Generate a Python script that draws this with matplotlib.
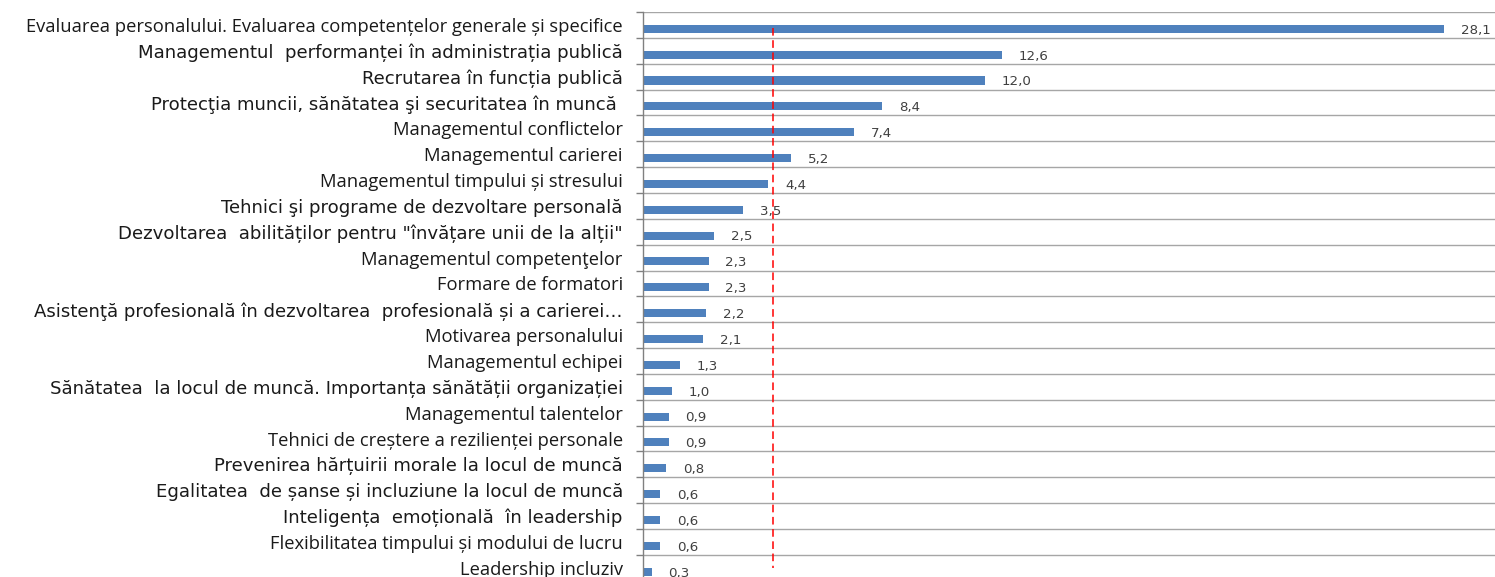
import matplotlib
matplotlib.use("Agg")
import matplotlib.pyplot as plt
import numpy as np

categories = [
    "Evaluarea personalului. Evaluarea competențelor generale și specifice",
    "Managementul  performanței în administrația publică",
    "Recrutarea în funcția publică",
    "Protecţia muncii, sănătatea şi securitatea în muncă ",
    "Managementul conflictelor",
    "Managementul carierei",
    "Managementul timpului și stresului",
    "Tehnici şi programe de dezvoltare personală",
    "Dezvoltarea  abilităților pentru \"învățare unii de la alții\"",
    "Managementul competenţelor",
    "Formare de formatori",
    "Asistenţă profesională în dezvoltarea  profesională și a carierei…",
    "Motivarea personalului",
    "Managementul echipei",
    "Sănătatea  la locul de muncă. Importanța sănătății organizației",
    "Managementul talentelor",
    "Tehnici de creștere a rezilienței personale",
    "Prevenirea hărțuirii morale la locul de muncă",
    "Egalitatea  de șanse și incluziune la locul de muncă",
    "Inteligența  emoțională  în leadership",
    "Flexibilitatea timpului și modului de lucru",
    "Leadership incluziv",
]
values = [28.1, 12.6, 12.0, 8.4, 7.4, 5.2, 4.4, 3.5, 2.5, 2.3, 2.3, 2.2, 2.1,
          1.3, 1.0, 0.9, 0.9, 0.8, 0.6, 0.6, 0.6, 0.3]
value_labels = ["28,1", "12,6", "12,0", "8,4", "7,4", "5,2", "4,4", "3,5", "2,5",
                "2,3", "2,3", "2,2", "2,1", "1,3", "1,0", "0,9", "0,9", "0,8",
                "0,6", "0,6", "0,6", "0,3"]
# label font style: True = Calibri-like, False = Arial-like
calibri_like = [True, False, False, False, True, True, True, False, False, True,
                True, False, True, True, False, True, True, False, False, False,
                True, True]
average = sum(values) / len(values)

W, H = 1495, 577
fig = plt.figure(figsize=(W / 100, H / 100), dpi=100)
left = 643 / W
top = 1 - 12 / H
n = len(categories)
step = 25.85
height_px = n * step
ax = fig.add_axes([left, top - height_px / H, 1 - left, height_px / H])

y = np.arange(n)
off = 0.15
ax.barh(y + off, values, height=0.31, color="#4F81BD", zorder=2)
ax.plot([average, average], [0 + off - 0.05, n - 1], color="#FF0000",
        linestyle=(0, (5, 3)), linewidth=1.1, zorder=3)

for yi, v, lab in zip(y, values, value_labels):
    ax.annotate(lab, xy=(v, yi + off), xytext=(12.2, -1), textcoords="offset points",
                ha="left", va="center", fontsize=9.6, color="#404040",
                family="DejaVu Sans", zorder=4)

ax.set_xlim(0, 852 / 28.5)
ax.set_ylim(n - 0.5, -0.5)

ax.set_yticks(y)
ax.set_yticklabels(categories)
for t, cal in zip(ax.get_yticklabels(), calibri_like):
    if cal:
        t.set_family("Open Sans")
        t.set_fontsize(13.2)
    else:
        t.set_family("DejaVu Sans")
        t.set_fontsize(13.1)
    t.set_color("#1a1a1a")
ax.tick_params(axis="y", which="major", length=0, pad=14.5)

bounds = np.arange(-0.5, n, 1.0)
ax.set_yticks(bounds, minor=True)
ax.tick_params(axis="y", which="minor", length=5, color="#808080", width=1)
ax.grid(axis="y", which="minor", color="#A6A6A6", linewidth=1, zorder=1)
ax.set_xticks([])

for s in ["top", "right", "bottom"]:
    ax.spines[s].set_visible(False)
ax.spines["left"].set_color("#808080")
ax.spines["left"].set_linewidth(1)

fig.savefig("out.png", dpi=100)
